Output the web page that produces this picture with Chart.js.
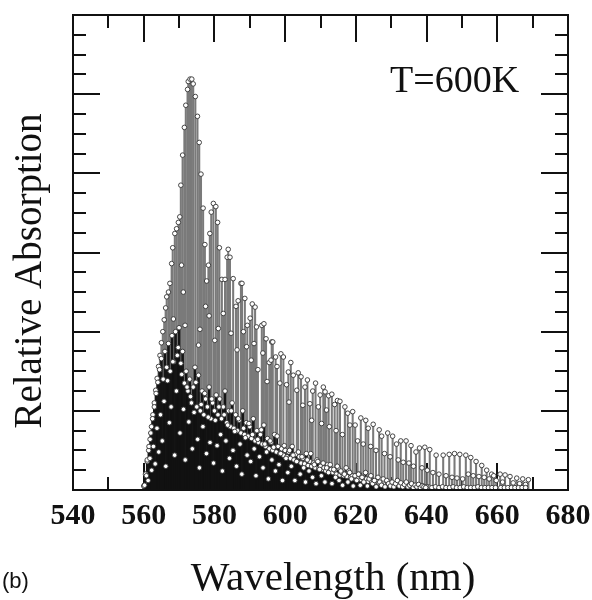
<!DOCTYPE html>
<html>
<head>
<meta charset="utf-8">
<title>Relative Absorption, T=600K</title>
<script src="https://cdn.jsdelivr.net/npm/chart.js@4.4.1/dist/chart.umd.min.js"></script>
<style>
  html, body { margin: 0; padding: 0; background: #fff; }
  #wrap { position: relative; width: 592px; height: 600px; }
</style>
</head>
<body>
<div id="wrap"><canvas id="spectrum"></canvas></div>
<script>
'use strict';

// ─── Data ─────────────────────────────────────────────────────────────────────
const X_MIN = 540, X_MAX = 680, X_STEP = 20;
const Y_MIN = 0, Y_MAX = 6;

// main (cold) band lines: [wavelength nm, relative absorption]
const greySticks = [
  [560.2, 0.06], [560.6, 0.20], [561.0, 0.36], [561.4, 0.50], [561.8, 0.64], [562.2, 0.80],
  [562.6, 0.95], [563.0, 1.10], [563.4, 1.26], [563.8, 1.41], [564.2, 1.56], [564.6, 1.70],
  [565.0, 1.86], [565.4, 2.00], [565.8, 2.15], [566.2, 2.30], [566.5, 2.44], [567.0, 2.50],
  [567.4, 2.61], [567.9, 2.86], [568.2, 3.06], [568.4, 2.16], [568.8, 3.24], [569.3, 3.30],
  [569.8, 3.38], [570.2, 3.45], [570.5, 3.85], [570.7, 2.84], [571.0, 4.23], [571.2, 2.50],
  [571.5, 4.58], [571.7, 2.08], [571.9, 4.86], [572.4, 5.06], [572.6, 5.16], [573.1, 5.19],
  [573.6, 5.19], [574.0, 5.13], [574.6, 4.97], [575.2, 4.72], [575.5, 1.83], [575.7, 4.39],
  [575.9, 2.03], [576.2, 3.99], [576.8, 3.56], [577.3, 3.10], [577.5, 2.32], [577.8, 2.64],
  [578.3, 2.84], [578.5, 2.20], [578.7, 3.24], [579.1, 3.51], [579.7, 3.62], [580.1, 1.89],
  [580.4, 3.58], [580.9, 3.38], [581.1, 2.04], [581.4, 3.06], [582.1, 2.66], [582.5, 2.23],
  [583.0, 2.66], [583.6, 2.94], [583.9, 3.04], [584.4, 2.94], [584.7, 1.98], [585.3, 2.67],
  [586.1, 2.32], [586.4, 1.77], [586.7, 2.39], [587.5, 2.61], [587.8, 2.61], [588.2, 2.00],
  [588.6, 2.42], [589.1, 1.81], [589.3, 2.08], [590.1, 2.17], [590.4, 1.64], [590.7, 2.35],
  [591.2, 1.85], [591.5, 2.31], [591.9, 2.06], [592.3, 1.52], [593.4, 2.08], [593.7, 1.73],
  [594.0, 2.10], [594.6, 1.91], [594.9, 1.37], [595.5, 1.61], [596.0, 1.64], [596.2, 1.87],
  [596.5, 1.87], [597.3, 1.68], [597.7, 1.56], [598.5, 1.35], [598.8, 1.72], [599.5, 1.68],
  [600.4, 1.33], [600.9, 1.49], [601.1, 1.11], [601.6, 1.61], [602.3, 1.45], [603.3, 1.26],
  [603.7, 1.48], [604.5, 1.43], [605.0, 1.07], [605.6, 1.30], [606.3, 1.39], [607.0, 1.09],
  [607.5, 0.88], [607.8, 1.25], [608.6, 1.35], [609.4, 1.05], [609.9, 1.20], [610.3, 0.84],
  [610.8, 1.30], [611.3, 1.24], [611.7, 1.01], [612.3, 1.19], [612.5, 0.80], [613.2, 1.21],
  [614.0, 1.08], [614.4, 0.75], [614.8, 1.13], [615.5, 1.12], [616.2, 0.70], [616.9, 1.05],
  [617.7, 0.97], [618.3, 0.82], [619.1, 0.99], [619.8, 0.82], [620.5, 0.62], [621.4, 0.91],
  [622.1, 0.58], [622.8, 0.88], [623.5, 0.78], [624.2, 0.55], [624.9, 0.83], [625.7, 0.50],
  [626.6, 0.76], [627.3, 0.68], [628.1, 0.46], [629.0, 0.72], [629.7, 0.42], [630.4, 0.68],
  [631.5, 0.58], [632.0, 0.38], [632.7, 0.62], [633.4, 0.35], [634.2, 0.62], [635.0, 0.34],
  [635.6, 0.56], [636.3, 0.30], [637.0, 0.48], [638.0, 0.53], [638.7, 0.28], [639.5, 0.54],
  [640.2, 0.25], [640.9, 0.51], [641.8, 0.22], [642.7, 0.44], [643.5, 0.20], [644.7, 0.44],
  [645.5, 0.18], [646.4, 0.45], [647.2, 0.16], [647.9, 0.46], [648.6, 0.15], [649.4, 0.45],
  [650.2, 0.14], [651.1, 0.44], [651.8, 0.20], [652.5, 0.41], [653.2, 0.18], [654.0, 0.36],
  [654.8, 0.17], [655.6, 0.31], [656.3, 0.16], [657.0, 0.25], [657.7, 0.14], [658.4, 0.20],
  [659.0, 0.18], [659.7, 0.12], [660.8, 0.20], [661.5, 0.10], [662.2, 0.19], [663.6, 0.17],
  [664.5, 0.09], [665.5, 0.15], [666.3, 0.08], [667.2, 0.14], [668.0, 0.07], [668.8, 0.13],
];

// hot-band lines, sampled every 0.5 nm from 560.0 nm
const hotStart = 560.0, hotStep = 0.5;
const hotAbs = [
  0.05, 0.20, 0.38, 0.55, 0.72, 0.90, 1.05, 1.22, 1.36, 1.52, 1.66, 1.40, 1.75, 1.55, 1.85, 1.50, 1.95, 1.62, 2.00, 1.70,
  2.05, 1.60, 1.75, 1.35, 1.50, 1.25, 1.40, 1.10, 1.30, 1.55, 1.05, 1.45, 1.00, 1.25, 0.95, 1.15, 1.05, 1.30, 0.90, 1.10,
  1.00, 1.20, 0.95, 1.15, 0.90, 1.05, 1.25, 0.85, 1.00, 0.80, 1.10, 0.78, 0.95, 0.75, 0.88, 0.72, 1.00, 0.70, 0.85, 0.68,
  0.80, 0.65, 0.90, 0.62, 0.75, 0.60, 0.70, 0.58, 0.82, 0.55, 0.65, 0.52, 0.60, 0.50, 0.70, 0.48, 0.55, 0.46, 0.52, 0.44,
  0.50, 0.42, 0.48, 0.40, 0.55, 0.38, 0.45, 0.36, 0.42, 0.34, 0.40, 0.33, 0.46, 0.31, 0.36, 0.30, 0.34, 0.28, 0.38, 0.27,
  0.30, 0.26, 0.28, 0.24, 0.32, 0.23, 0.26, 0.22, 0.25, 0.20, 0.28, 0.19, 0.22, 0.18, 0.20, 0.17, 0.24, 0.16, 0.18, 0.15,
  0.17, 0.14, 0.20, 0.13, 0.15, 0.12, 0.14, 0.11, 0.16, 0.10, 0.12, 0.10, 0.11, 0.09, 0.13, 0.09, 0.10, 0.08, 0.09, 0.08,
  0.09, 0.07, 0.08, 0.07, 0.10, 0.06, 0.07, 0.06, 0.08, 0.05, 0.06, 0.05, 0.07, 0.05, 0.05, 0.04, 0.06, 0.04, 0.05, 0.04, 0.04,
];

// weaker hot-band lines, every 0.5 nm from 560.25 nm
const lowStart = 560.25, lowStep = 0.5;
const lowAbs = [
  0.06, 0.18, 0.12, 0.40, 0.25, 0.55, 0.33, 0.78, 0.48, 0.95, 0.62, 1.12, 0.30, 1.38, 0.85, 1.05, 1.62, 0.44, 1.25, 1.80,
  0.72, 1.46, 1.02, 0.38, 1.30, 0.86, 1.18, 0.52, 0.98, 1.36, 0.64, 0.28, 1.08, 0.80, 1.22, 0.46, 0.92, 0.60, 1.15, 0.34,
  0.88, 0.56, 1.05, 0.70, 0.24, 0.95, 0.62, 0.82, 0.40, 1.00, 0.50, 0.74, 0.30, 0.90, 0.58, 0.20, 0.78, 0.66, 0.44, 0.84,
  0.36, 0.70, 0.52, 0.18, 0.64, 0.42, 0.76, 0.28, 0.58, 0.48, 0.14, 0.62, 0.38, 0.54, 0.24, 0.68, 0.32, 0.46, 0.12, 0.56,
  0.40, 0.22, 0.50, 0.30, 0.44, 0.12, 0.36, 0.48, 0.20, 0.42, 0.28, 0.10, 0.38, 0.24, 0.46, 0.16, 0.32, 0.08, 0.36, 0.26,
  0.18, 0.34, 0.10, 0.28, 0.22, 0.32, 0.08, 0.26, 0.16, 0.30, 0.12, 0.24, 0.06, 0.20, 0.28, 0.10, 0.22, 0.14, 0.05, 0.18,
  0.12, 0.20, 0.06, 0.16, 0.10, 0.22, 0.05, 0.14, 0.18, 0.08, 0.12, 0.04, 0.16, 0.10, 0.06, 0.14, 0.04, 0.12, 0.08, 0.05,
  0.10, 0.04, 0.08, 0.12, 0.05, 0.09, 0.04, 0.07, 0.10, 0.04, 0.06, 0.08, 0.03, 0.06, 0.04, 0.07, 0.03, 0.05, 0.04, 0.03,
];

// very weak lines sitting on the baseline
const baseSticks = [
  [640.5, 0.04], [641.5, 0.03], [642.5, 0.04], [643.5, 0.03], [644.5, 0.04], [645.5, 0.03],
  [646.5, 0.03], [647.5, 0.04], [648.5, 0.03], [649.5, 0.03], [650.5, 0.04], [651.5, 0.03],
  [652.5, 0.03], [653.5, 0.03], [654.5, 0.04], [655.5, 0.03], [656.5, 0.03], [657.5, 0.03],
  [658.5, 0.03], [659.5, 0.03], [661.0, 0.03], [662.0, 0.03], [663.0, 0.03], [664.0, 0.03],
  [665.0, 0.03], [666.0, 0.03], [667.0, 0.03], [668.0, 0.03],
];

// ─── Build points ─────────────────────────────────────────────────────────────
const toPts = pairs => pairs.map(([x, y]) => ({ x, y }));
const gridPts = (start, step, vals) => vals.map((y, i) => ({ x: start + i * step, y }));

const greyPts = toPts(greySticks);
const hotPts = gridPts(hotStart, hotStep, hotAbs);
const lowPts = gridPts(lowStart, lowStep, lowAbs);
const basePts = toPts(baseSticks);

const SERIF = '"Liberation Serif", "Times New Roman", serif';

// ─── Plugins ──────────────────────────────────────────────────────────────────
// inward tick marks on all four sides (drawn under the data), frame on top
const frameTicks = {
  id: 'frameTicks',
  beforeDatasetsDraw(chart) {
    const { ctx, chartArea: a, scales: { x, y } } = chart;
    ctx.save();
    ctx.strokeStyle = '#111';
    ctx.lineWidth = 2;
    ctx.beginPath();
    for (let v = X_MIN + 10; v < X_MAX; v += 10) {
      const px = Math.round(x.getPixelForValue(v));
      const len = v % 20 === 0 ? 27 : 13;
      ctx.moveTo(px, a.top); ctx.lineTo(px, a.top + len);
      ctx.moveTo(px, a.bottom); ctx.lineTo(px, a.bottom - len);
    }
    for (let v = Y_MIN + 0.25; v < Y_MAX; v += 0.25) {
      const py = Math.round(y.getPixelForValue(v));
      const len = v % 1 === 0 ? 27 : 13;
      ctx.moveTo(a.left, py); ctx.lineTo(a.left + len, py);
      ctx.moveTo(a.right, py); ctx.lineTo(a.right - len, py);
    }
    ctx.stroke();
    ctx.restore();
  },
  afterDatasetsDraw(chart) {
    const { ctx, chartArea: a } = chart;
    ctx.save();
    ctx.strokeStyle = '#111';
    ctx.lineWidth = 2;
    ctx.strokeRect(a.left, a.top, a.right - a.left, a.bottom - a.top);
    ctx.restore();
  },
};

// axis titles and annotations
const annotations = {
  id: 'annotations',
  afterDraw(chart) {
    const { ctx } = chart;
    ctx.save();
    ctx.fillStyle = '#111';
    ctx.textBaseline = 'alphabetic';

    ctx.font = `38px ${SERIF}`;
    ctx.textAlign = 'left';
    ctx.fillText('T=600K', 390, 92);

    ctx.font = `41px ${SERIF}`;
    ctx.textAlign = 'center';
    ctx.fillText('Wavelength (nm)', 333, 590);

    ctx.font = '22px "Liberation Sans", Arial, sans-serif';
    ctx.textAlign = 'left';
    ctx.fillText('(b)', 2, 588);

    ctx.font = `39px ${SERIF}`;
    ctx.translate(41, 271);
    ctx.rotate(-Math.PI / 2);
    ctx.textAlign = 'center';
    ctx.fillText('Relative Absorption', 0, 0);
    ctx.restore();
  },
};

// ─── Chart ────────────────────────────────────────────────────────────────────
const stickBase = { type: 'bar', grouped: false, borderWidth: 0 };
const dotBase = {
  type: 'scatter',
  pointStyle: 'circle',
  pointRadius: 2.3,
  pointBackgroundColor: '#fff',
  pointBorderColor: '#333',
  pointBorderWidth: 0.9,
};

new Chart(document.getElementById('spectrum'), {
  type: 'bar',
  data: {
    datasets: [
      { ...dotBase, label: 'weak tops', data: lowPts, order: 1 },
      { ...dotBase, label: 'hot tops', data: hotPts, order: 2 },
      { ...dotBase, label: 'base tops', data: basePts, order: 3 },
      { ...dotBase, label: 'main tops', data: greyPts, order: 4 },
      { ...stickBase, label: 'weak', data: lowPts, backgroundColor: '#111', barThickness: 1.2, order: 5 },
      { ...stickBase, label: 'base', data: basePts, backgroundColor: '#444', barThickness: 1, order: 6 },
      { ...stickBase, label: 'hot', data: hotPts, backgroundColor: '#151515', barThickness: 2, order: 7 },
      { ...stickBase, label: 'main', data: greyPts, backgroundColor: '#7a7a7a', barThickness: 1.4, order: 8 },
    ],
  },
  options: {
    responsive: true,
    maintainAspectRatio: false,
    animation: false,
    events: [],
    layout: { padding: { top: 15, right: 24, left: 0, bottom: 0 } },
    plugins: { legend: { display: false }, tooltip: { enabled: false }, title: { display: false } },
    scales: {
      x: {
        type: 'linear',
        min: X_MIN, max: X_MAX,
        offset: false,
        grid: { display: false, offset: false, drawTicks: false },
        border: { display: false },
        ticks: {
          stepSize: X_STEP,
          padding: 8,
          color: '#111',
          font: { family: SERIF, size: 30, weight: 'bold' },
        },
        afterFit: s => { s.height = 110; s.paddingLeft = 0; s.paddingRight = 0; },
      },
      y: {
        min: Y_MIN, max: Y_MAX,
        grid: { display: false, drawTicks: false },
        border: { display: false },
        ticks: { display: false },
        afterFit: s => { s.width = 73; s.paddingTop = 0; s.paddingBottom = 0; },
      },
    },
  },
  plugins: [frameTicks, annotations],
});
</script>
</body>
</html>
